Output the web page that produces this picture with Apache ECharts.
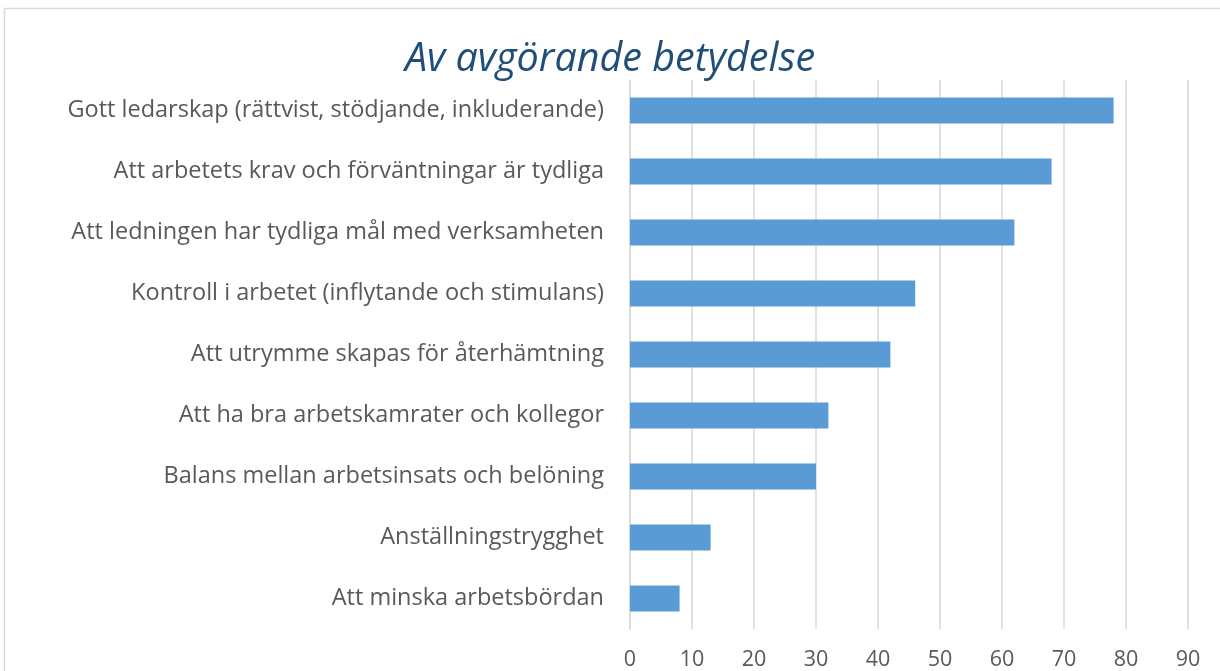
<!DOCTYPE html>
<html>
<head>
<meta charset="utf-8">
<script src="https://cdn.jsdelivr.net/npm/echarts@6/dist/echarts.min.js"></script>
<style>
  html, body { margin: 0; padding: 0; background: #fff; }
  #chart { width: 1220px; height: 671px; }
</style>
</head>
<body>
<div id="chart"></div>
<script>
// kategorier, uppifrån och ned
const categories = [
  'Gott ledarskap (rättvist, stödjande, inkluderande)',
  'Att arbetets krav och förväntningar är tydliga',
  'Att ledningen har tydliga mål med verksamheten',
  'Kontroll i arbetet (inflytande och stimulans)',
  'Att utrymme skapas för återhämtning',
  'Att ha bra arbetskamrater och kollegor',
  'Balans mellan arbetsinsats och belöning',
  'Anställningstrygghet',
  'Att minska arbetsbördan'
]
const values = [78, 68, 62, 46, 42, 32, 30, 13, 8]
const xTicks = { min: 0, max: 90, interval: 10 }

const chart = echarts.init(document.getElementById('chart'))

const option = {
  animation: false,
  textStyle: { fontFamily: 'Open Sans' },
  title: {
    text: 'Av avgörande betydelse',
    left: 'center',
    top: 35,
    textStyle: {
      fontFamily: 'Open Sans',
      fontStyle: 'italic',
      fontWeight: 'normal',
      fontSize: 39.5,
      color: '#1f4e79'
    }
  },
  // ramen runt diagrammet
  graphic: [{
    type: 'rect',
    shape: { x: 4.5, y: 8.5, width: 1240, height: 700 },
    style: { fill: 'none', stroke: '#d9d9d9', lineWidth: 1.5 },
    silent: true
  }],
  grid: { left: 630, right: 32, top: 80, bottom: 42, containLabel: false },
  xAxis: {
    type: 'value',
    min: xTicks.min,
    max: xTicks.max,
    interval: xTicks.interval,
    axisLine: { show: false },
    axisTick: { show: false },
    axisLabel: { color: '#595959', fontSize: 21.5, margin: 20 },
    splitLine: { lineStyle: { color: '#d9d9d9', width: 1.5 } }
  },
  yAxis: {
    type: 'category',
    data: categories,
    inverse: true,
    axisLine: { show: true, lineStyle: { color: '#d9d9d9', width: 1.5 } },
    axisTick: { show: false },
    axisLabel: { color: '#595959', fontSize: 23.5, margin: 26 }
  },
  series: [{
    type: 'bar',
    data: values,
    barCategoryGap: '57%',
    itemStyle: { color: '#5b9bd5' }
  }]
}
chart.setOption(option)
</script>
</body>
</html>
